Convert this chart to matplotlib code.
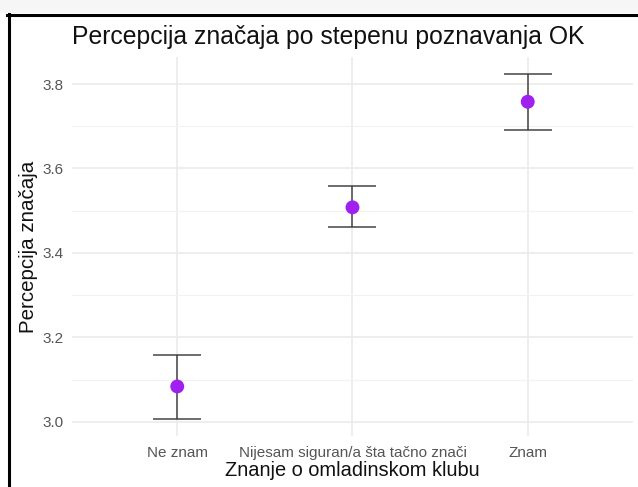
import matplotlib
matplotlib.use('Agg')
import matplotlib.pyplot as plt
from matplotlib.lines import Line2D
from matplotlib.patches import Rectangle

plt.rcParams['font.family'] = ['Liberation Sans', 'DejaVu Sans']

# podaci
categories = ['Ne znam', 'Nijesam siguran/a šta tačno znači', 'Znam']
means = [3.084, 3.508, 3.758]
lower = [3.008, 3.461, 3.690]
upper = [3.159, 3.558, 3.824]

fig = plt.figure(figsize=(6.38, 4.87), dpi=100)
ax = fig.add_axes([0.113, 0.105, 0.879, 0.778])

x = list(range(len(categories)))

# error bars
ax.errorbar(x, means,
            yerr=[[m - l for m, l in zip(means, lower)], [u - m for m, u in zip(means, upper)]],
            fmt='none', ecolor='#3a3a3a', elinewidth=1.3, capsize=17.5, capthick=1.3,
            alpha=0.8, zorder=3)
ax.scatter(x, means, s=100, color='#A020F0', edgecolors='none', zorder=4)

ax.set_xlim(-0.6, len(categories) - 1 + 0.6)
ax.set_ylim(2.967, 3.864)
ax.set_xticks(x)
ax.set_xticklabels(categories)
ax.set_yticks([3.0, 3.2, 3.4, 3.6, 3.8])
ax.set_yticks([3.1, 3.3, 3.5, 3.7], minor=True)

# theme_minimal
for s in ax.spines.values():
    s.set_visible(False)
ax.tick_params(axis='both', which='both', length=0, labelsize=11, labelcolor='#555555')
ax.tick_params(axis='x', pad=7)
ax.tick_params(axis='y', pad=6)
ax.grid(which='major', color='#EBEBEB', linewidth=1.2)
ax.grid(which='minor', axis='y', color='#F2F2F2', linewidth=0.8)
ax.set_axisbelow(True)

ax.set_title('Percepcija značaja po stepenu poznavanja OK', fontsize=17.8, loc='left',
             x=0.0, pad=9, color='#111111')
ax.set_xlabel('Znanje o omladinskom klubu', fontsize=14.4, labelpad=1, color='#111111')
ax.set_ylabel('Percepcija značaja', fontsize=14.8, labelpad=3, color='#111111')

# okvir snimka ekrana
fig.patches.append(Rectangle((0, 1 - 13 / 487), 1, 13 / 487, transform=fig.transFigure,
                             facecolor='#F6F6F6', edgecolor='none', zorder=0))
fig.lines.append(Line2D([7 / 638, 1], [1 - 14.5 / 487, 1 - 14.5 / 487], transform=fig.transFigure,
                        color='black', linewidth=2.2))
fig.lines.append(Line2D([8.5 / 638, 8.5 / 638], [0, 1 - 13.5 / 487], transform=fig.transFigure,
                        color='black', linewidth=2.2))

fig.savefig('out.png', dpi=100, facecolor='white')
